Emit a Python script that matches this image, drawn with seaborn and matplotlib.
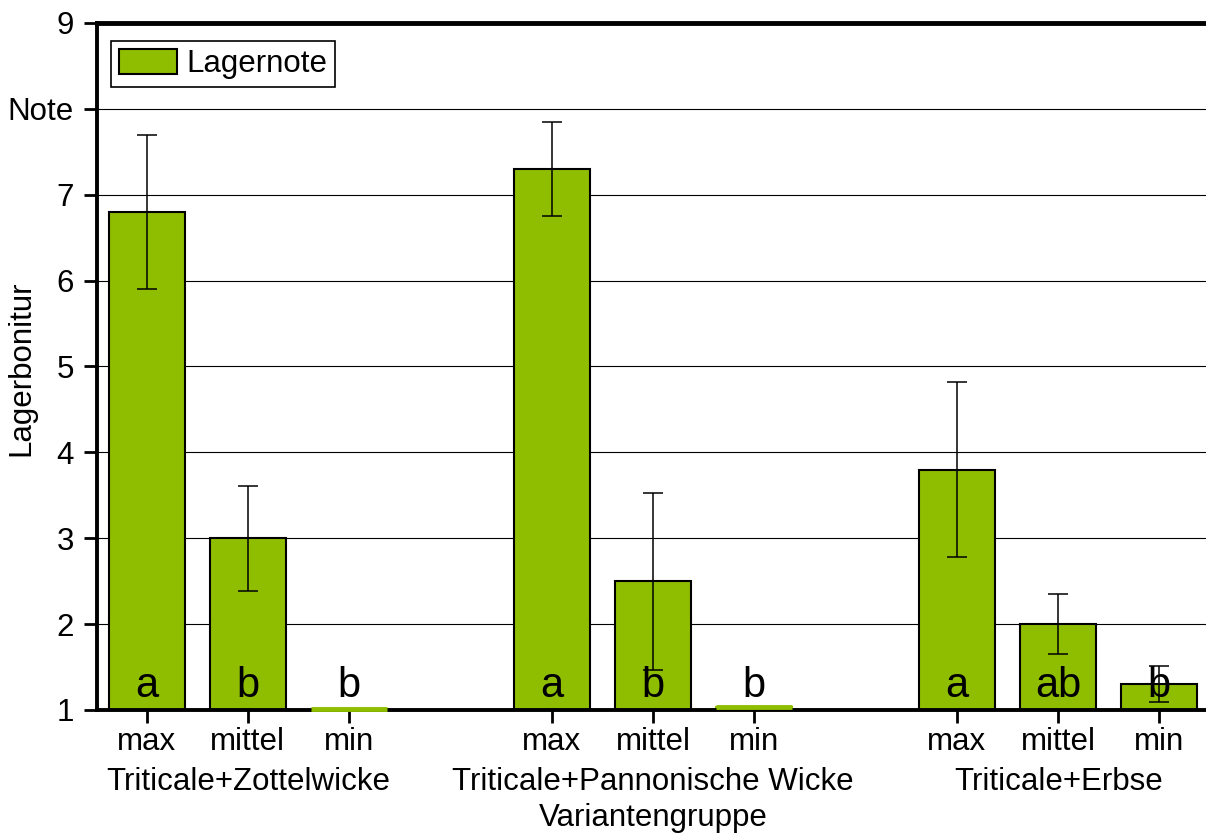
import numpy as np
import pandas as pd
import matplotlib
matplotlib.use("Agg")
import matplotlib.pyplot as plt
import seaborn as sns

# Werte
gruppen = ["Triticale+Zottelwicke", "Triticale+Pannonische Wicke", "Triticale+Erbse"]
stufen = ["max", "mittel", "min"]
positionen = [0, 1, 2, 4, 5, 6, 8, 9, 10]
lagernote = [6.8, 3.0, 1.0, 7.3, 2.5, 1.03, 3.8, 2.0, 1.3]
fehler_oben = [7.69, 3.61, 1.0, 7.85, 3.53, 1.03, 4.82, 2.35, 1.51]
fehler_unten = [5.90, 2.39, 1.0, 6.75, 1.47, 1.03, 2.78, 1.65, 1.09]
buchstaben = ["a", "b", "b", "a", "b", "b", "a", "ab", "b"]
y_ticks = [1, 2, 3, 4, 5, 6, 7, 8, 9]
y_ticklabels = ["1", "2", "3", "4", "5", "6", "7", "Note", "9"]

gruen = "#8FBE00"
fs = 22.5

sns.set_style("white")
plt.rcParams["font.family"] = ["Liberation Sans", "DejaVu Sans"]
plt.rcParams["text.color"] = "black"
plt.rcParams["axes.labelcolor"] = "black"
plt.rcParams["xtick.color"] = "black"
plt.rcParams["ytick.color"] = "black"

df = pd.DataFrame({
    "pos": positionen,
    "wert": lagernote,
    "oben": fehler_oben,
    "unten": fehler_unten,
    "buchstabe": buchstaben,
})

fig = plt.figure(figsize=(12.06, 8.33), dpi=100)
ax = fig.add_axes([0.0804, 0.1477, 0.9196, 0.8247])

sns.barplot(data=df, x="pos", y="wert", native_scale=True, width=0.75,
            color=gruen, saturation=1, edgecolor="black", linewidth=1.5,
            errorbar=None, label="Lagernote", ax=ax)

# Balken ohne sichtbare Hoehe als gruene Linie
for patch, w in zip(ax.patches, df["wert"]):
    if w < 1.05:
        patch.set_edgecolor(gruen)
flach = df[df["wert"] < 1.05]
ax.hlines(flach["wert"] + 0.01, flach["pos"] - 0.375, flach["pos"] + 0.375,
          color=gruen, linewidth=3.5, clip_on=False, zorder=5)

mit_fehler = df[df["oben"] > df["unten"]]
ax.errorbar(mit_fehler["pos"], mit_fehler["wert"],
            yerr=[mit_fehler["wert"] - mit_fehler["unten"], mit_fehler["oben"] - mit_fehler["wert"]],
            fmt="none", ecolor="black", elinewidth=1.1, capsize=7.5, capthick=1.1, zorder=4)

for _, r in df.iterrows():
    ax.text(r["pos"], 1.15, r["buchstabe"], ha="center", va="baseline", fontsize=30, zorder=6)

ax.set_xlim(-0.49, 10.46)
ax.set_ylim(1, 9)
ax.set_yticks(y_ticks)
ax.set_yticklabels(y_ticklabels)
ax.set_xticks(positionen)
ax.set_xticklabels(stufen * 3)
ax.tick_params(axis="both", labelsize=fs, direction="out", length=9.5, width=2,
               color="black", labelcolor="black", left=True, bottom=True)
ax.tick_params(axis="x", pad=3)
ax.tick_params(axis="y", pad=7)

ax.yaxis.grid(True, color="black", linewidth=0.8)
ax.xaxis.grid(False)
ax.set_axisbelow(True)

for side in ["left", "bottom", "top"]:
    ax.spines[side].set_visible(True)
    ax.spines[side].set_color("black")
    ax.spines[side].set_linewidth(2.8)
ax.spines["top"].set_linewidth(3.5)
ax.spines["right"].set_visible(False)

trans = ax.get_xaxis_transform()
for i, g in enumerate(gruppen):
    mitte = np.mean(positionen[i * 3:(i + 1) * 3])
    ax.text(mitte, -0.105, g, transform=trans, ha="center", va="center", fontsize=fs)
ax.text(5, -0.157, "Variantengruppe", transform=trans, ha="center", va="center", fontsize=fs)

ax.set_xlabel("")
ax.set_ylabel("Lagerbonitur", fontsize=fs)
ax.yaxis.set_label_coords(-0.055, 0.497)

leg = ax.legend(loc="upper left", bbox_to_anchor=(0.013, 0.974), fontsize=fs,
                frameon=True, fancybox=False, edgecolor="black", framealpha=1,
                handlelength=1.85, handleheight=0.85, handletextpad=0.3,
                borderpad=0.25, borderaxespad=0)
leg.get_frame().set_linewidth(1.2)
for t in leg.get_texts():
    t.set_color("black")

fig.savefig("out.png", dpi=100)
